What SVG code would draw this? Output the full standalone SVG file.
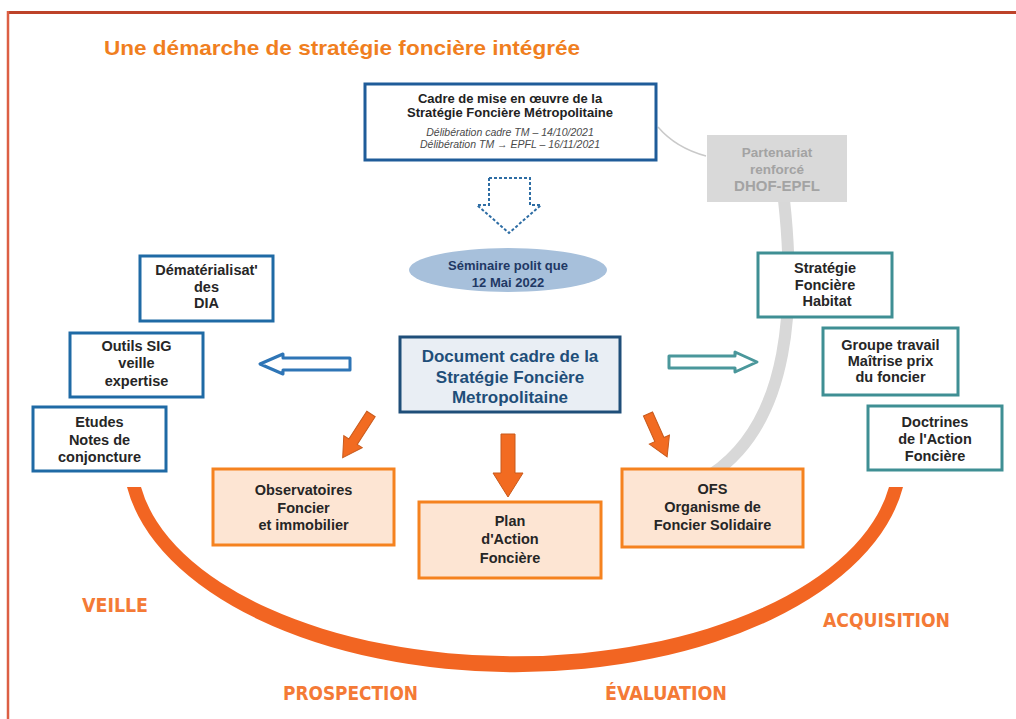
<svg xmlns="http://www.w3.org/2000/svg" width="1016" height="719" viewBox="0 0 1016 719">
  <defs>
    <style>
      text { font-family: "Liberation Sans", Arial, sans-serif; text-anchor: middle; }
      .t { font-weight: bold; font-size: 14.5px; fill: #262626; }
      .blue { fill: #ffffff; stroke: #1f6aa5; stroke-width: 3; }
      .teal { fill: #ffffff; stroke: #3f8f94; stroke-width: 3; }
      .orange { fill: #fde5d3; stroke: #f5821f; stroke-width: 3; }
      .oarrow { fill: #f26b21; stroke: #c85a1c; stroke-width: 1; }
      .phase { font-family: "Liberation Sans Narrow", "DejaVu Sans Condensed", "Liberation Sans", sans-serif; font-weight: bold; font-size: 20px; fill: #f47a36; }
      .ital { font-style: italic; font-size: 10.5px; fill: #4a4a4a; }
    </style>
  </defs>

  <!-- frame -->
  <line x1="8" y1="12.5" x2="1016" y2="12.5" stroke="#bd4229" stroke-width="3"/>
  <line x1="8" y1="11" x2="8" y2="719" stroke="#dc5f44" stroke-width="2.5"/>

  <!-- title -->
  <text x="342" y="55" font-size="21" font-weight="bold" fill="#f07f1f" textLength="476" lengthAdjust="spacingAndGlyphs">Une démarche de stratégie foncière intégrée</text>

  <!-- decorative arcs -->
  <g id="cycle">
    <path d="M 127 487 A 392 216 0 0 0 903 487 L 889 487 A 378 198 0 0 1 141 487 Z" fill="#f26522"/>
    <path d="M 784 200 C 795 300, 792 420, 712 474" fill="none" stroke="#d8d8d8" stroke-width="12"/>
  </g>

  <!-- connectors -->
  <g id="connectors">
    <path d="M 658 127 Q 676 148 706 156" fill="none" stroke="#c9c9c9" stroke-width="1.5"/>
    <path d="M 489 178 L 530 178 L 530 205 L 541 205 L 509 233 L 477 205 L 489 205 Z" fill="#ffffff" stroke="#2e6da4" stroke-width="2" stroke-dasharray="3 2"/>
    <path d="M 350 358 L 283 358 L 283 354 L 260 364 L 283 374 L 283 370 L 350 370 Z" fill="#ffffff" stroke="#2e75b6" stroke-width="3" stroke-linejoin="round"/>
    <path d="M 669 356 L 735 356 L 735 352 L 757 362 L 735 372 L 735 368 L 669 368 Z" fill="#ffffff" stroke="#4a979b" stroke-width="3" stroke-linejoin="round"/>
    <path class="oarrow" transform="translate(371 414) rotate(33)" d="M -5 0 L 5 0 L 5 33 L 11 33 L 0 52 L -11 33 L -5 33 Z"/>
    <path class="oarrow" transform="translate(508 434)" d="M -7 0 L 7 0 L 7 39 L 15 39 L 0 63 L -15 39 L -7 39 Z"/>
    <path class="oarrow" transform="translate(648 414) rotate(-24)" d="M -5 0 L 5 0 L 5 28 L 11 28 L 0 47 L -11 28 L -5 28 Z"/>
  </g>

  <!-- top frame box -->
  <g id="cadre-mise-en-oeuvre">
    <rect x="365" y="84" width="291" height="76" fill="#ffffff" stroke="#1f5c99" stroke-width="3"/>
    <text x="510" y="102.5" font-size="13" font-weight="bold" fill="#222">Cadre de mise en œuvre de la</text>
    <text x="510" y="116.5" font-size="13" font-weight="bold" fill="#222">Stratégie Foncière Métropolitaine</text>
    <text class="ital" x="510" y="135.5">Délibération cadre TM – 14/10/2021</text>
    <text class="ital" x="510" y="147.5">Délibération TM → EPFL – 16/11/2021</text>
  </g>

  <!-- partenariat -->
  <g id="partenariat">
    <rect x="707" y="135" width="140" height="67" fill="#d9d9d9"/>
    <text x="777" y="157" font-size="13.5" font-weight="bold" fill="#a3a3a3">Partenariat</text>
    <text x="777" y="174" font-size="13.5" font-weight="bold" fill="#a3a3a3">renforcé</text>
    <text x="777" y="191" font-size="15" font-weight="bold" fill="#a3a3a3">DHOF-EPFL</text>
  </g>

  <!-- seminar -->
  <g id="seminaire">
    <ellipse cx="508" cy="270" rx="99" ry="22" fill="#a7c0db"/>
    <text x="508" y="269.5" font-size="13" font-weight="bold" fill="#1f3864">Séminaire polit que</text>
    <text x="508" y="287" font-size="13" font-weight="bold" fill="#1f3864">12 Mai 2022</text>
  </g>

  <!-- central document -->
  <g id="document-cadre">
    <rect x="400" y="337" width="220" height="75" fill="#e9eef4" stroke="#1f4e79" stroke-width="3"/>
    <text x="510" y="362" font-size="17" font-weight="bold" fill="#1f4e79">Document cadre de la</text>
    <text x="510" y="383" font-size="17" font-weight="bold" fill="#1f4e79">Stratégie Foncière</text>
    <text x="510" y="403" font-size="17" font-weight="bold" fill="#1f4e79">Metropolitaine</text>
  </g>

  <!-- left boxes -->
  <g id="dematerialisation">
    <rect class="blue" x="140" y="256" width="133" height="65"/>
    <text class="t" x="206.5" y="275">Dématérialisat'</text>
    <text class="t" x="206.5" y="292">des</text>
    <text class="t" x="206.5" y="308">DIA</text>
  </g>
  <g id="outils-sig">
    <rect class="blue" x="70" y="333" width="133" height="64"/>
    <text class="t" x="136.5" y="351">Outils SIG</text>
    <text class="t" x="136.5" y="368">veille</text>
    <text class="t" x="136.5" y="386">expertise</text>
  </g>
  <g id="etudes">
    <rect class="blue" x="33" y="407" width="133" height="64"/>
    <text class="t" x="99.5" y="427">Etudes</text>
    <text class="t" x="99.5" y="445">Notes de</text>
    <text class="t" x="99.5" y="462">conjoncture</text>
  </g>

  <!-- right boxes -->
  <g id="strategie-habitat">
    <rect class="teal" x="758" y="253" width="134" height="64"/>
    <text class="t" x="825" y="273">Stratégie</text>
    <text class="t" x="825" y="290">Foncière</text>
    <text class="t" x="827" y="306">Habitat</text>
  </g>
  <g id="groupe-travail">
    <rect class="teal" x="823" y="328" width="135" height="67"/>
    <text class="t" x="890.5" y="350">Groupe travail</text>
    <text class="t" x="890.5" y="366">Maîtrise prix</text>
    <text class="t" x="890.5" y="382">du foncier</text>
  </g>
  <g id="doctrines">
    <rect class="teal" x="868" y="406" width="134" height="64"/>
    <text class="t" x="935" y="427">Doctrines</text>
    <text class="t" x="935" y="444">de l'Action</text>
    <text class="t" x="935" y="461">Foncière</text>
  </g>

  <!-- orange boxes -->
  <g id="observatoires">
    <rect class="orange" x="213" y="469" width="181" height="76"/>
    <text class="t" x="303.5" y="495">Observatoires</text>
    <text class="t" x="303.5" y="513">Foncier</text>
    <text class="t" x="303.5" y="530">et immobilier</text>
  </g>
  <g id="plan-action">
    <rect class="orange" x="419" y="502" width="182" height="76"/>
    <text class="t" x="510" y="526">Plan</text>
    <text class="t" x="510" y="544">d'Action</text>
    <text class="t" x="510" y="563">Foncière</text>
  </g>
  <g id="ofs">
    <rect class="orange" x="622" y="469" width="181" height="78"/>
    <text class="t" x="712.5" y="494">OFS</text>
    <text class="t" x="712.5" y="512">Organisme de</text>
    <text class="t" x="712.5" y="530">Foncier Solidaire</text>
  </g>

  <!-- phases -->
  <g id="phases">
    <text class="phase" x="115" y="612" textLength="66" lengthAdjust="spacingAndGlyphs">VEILLE</text>
    <text class="phase" x="886.5" y="627" textLength="127" lengthAdjust="spacingAndGlyphs">ACQUISITION</text>
    <text class="phase" x="350.5" y="700" textLength="135" lengthAdjust="spacingAndGlyphs">PROSPECTION</text>
    <text class="phase" x="666" y="700" textLength="122" lengthAdjust="spacingAndGlyphs">ÉVALUATION</text>
  </g>
</svg>
